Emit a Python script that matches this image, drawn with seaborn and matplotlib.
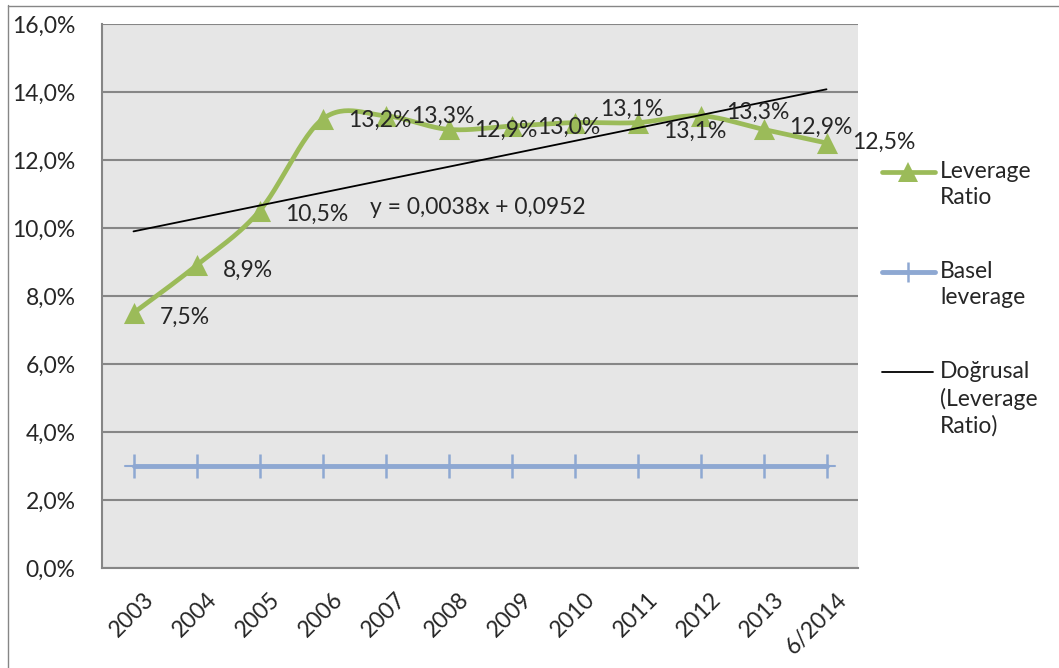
import numpy as np
import matplotlib
matplotlib.use("Agg")
import matplotlib.pyplot as plt
import matplotlib.transforms as mtransforms
from matplotlib.lines import Line2D
import seaborn as sns
import pandas as pd

categories = ["2003", "2004", "2005", "2006", "2007", "2008", "2009",
              "2010", "2011", "2012", "2013", "6/2014"]
leverage_ratio = [0.075, 0.089, 0.105, 0.132, 0.133, 0.129, 0.130,
                  0.131, 0.131, 0.133, 0.129, 0.125]
basel_leverage = [0.03] * 12
trend_slope = 0.0038
trend_intercept = 0.0952
y_ticks = [0.0, 0.02, 0.04, 0.06, 0.08, 0.10, 0.12, 0.14, 0.16]
label_dy = [-4, -5, -3, -1, -1, -1, -1, 13, -9, 3, 2, 1]  # label offsets (px)

sns.set_style("white")
plt.rcParams["font.family"] = ["Lato", "DejaVu Sans"]

GREEN = "#9BBB59"
BLUE = "#8EA8D2"
GRAY = "#868686"
FS = 16.5

W, H = 1059, 668
fig = plt.figure(figsize=(W / 100, H / 100), dpi=100)
ax = fig.add_axes([102 / W, 1 - 568 / H, (858 - 102) / W, (568 - 24) / H])
ax.set_facecolor("#E6E6E6")

x = np.arange(len(categories))
df = pd.DataFrame({"x": x, "lev": leverage_ratio, "basel": basel_leverage})

# Smoothed line (Excel-like Catmull-Rom rendering of the same points)
pts = np.column_stack([x, leverage_ratio]).astype(float)
ext = np.vstack([pts[0], pts, pts[-1]])
curve = []
t = np.linspace(0, 1, 30)
for i in range(1, len(ext) - 2):
    p0, p1, p2, p3 = ext[i - 1], ext[i], ext[i + 1], ext[i + 2]
    c1 = p1 + (p2 - p0) / 6
    c2 = p2 - (p3 - p1) / 6
    b = ((1 - t) ** 3)[:, None] * p1 + (3 * (1 - t) ** 2 * t)[:, None] * c1 \
        + (3 * (1 - t) * t ** 2)[:, None] * c2 + (t ** 3)[:, None] * p2
    curve.append(b)
curve = np.vstack(curve)
ax.plot(curve[:, 0], curve[:, 1], color=GREEN, lw=3.4, zorder=3,
        solid_capstyle="round")
sns.scatterplot(data=df, x="x", y="lev", marker="^", s=230, color=GREEN,
                edgecolor=GREEN, linewidth=0, ax=ax, zorder=4, legend=False)

# Basel line
ax.plot([-0.13, 11.13], [basel_leverage[0], basel_leverage[-1]], color=BLUE,
        lw=1.5, zorder=2)
sns.lineplot(data=df, x="x", y="basel", color=BLUE, lw=3.5, marker="|",
             markersize=17, markeredgewidth=1.8, markeredgecolor=BLUE,
             ax=ax, zorder=3, legend=False)

# Trend line
trend = trend_slope * (x + 1) + trend_intercept
ax.plot(x, trend, color="black", lw=1.3, zorder=5)
ax.text(3.75, 0.1059, "y = 0,0038x + 0,0952", fontsize=FS, va="center",
        ha="left", zorder=6)

# Data labels
for xi, yi, dy in zip(x, leverage_ratio, label_dy):
    ax.annotate(f"{yi * 100:.1f}%".replace(".", ","), (xi, yi),
                xytext=(26, dy), textcoords="offset pixels",
                ha="left", va="center", fontsize=FS, zorder=7,
                annotation_clip=False)

ax.set_xlim(-0.5, 11.5)
ax.set_ylim(0, 0.16)
ax.set_yticks(y_ticks)
ax.set_yticklabels([f"{v * 100:.1f}%".replace(".", ",") for v in y_ticks],
                   fontsize=FS)
ax.yaxis.grid(True, color=GRAY, lw=1.5)
ax.set_axisbelow(True)
ax.set_xticks(x)
ax.set_xticklabels(categories, rotation=45, ha="right", va="top",
                   rotation_mode="anchor", fontsize=FS)
ax.set_xticks(np.arange(-0.5, 12, 1), minor=True)
ax.tick_params(axis="x", which="major", length=0, pad=15)
ax.tick_params(axis="x", which="minor", length=7, width=1.5, color=GRAY,
               direction="out")
ax.tick_params(axis="y", length=7, width=1.5, color=GRAY, direction="out",
               pad=12)
offset = mtransforms.ScaledTranslation(0.10, 0.0, fig.dpi_scale_trans)
for lbl in ax.get_xticklabels():
    lbl.set_transform(lbl.get_transform() + offset)
ax.set_xlabel("")
ax.set_ylabel("")
for side in ["top", "right"]:
    ax.spines[side].set_visible(False)
for side in ["left", "bottom"]:
    ax.spines[side].set_color(GRAY)
    ax.spines[side].set_linewidth(1.5)

# Legend (drawn in figure pixels)
def fy(py):
    return 1 - py / H

def fx(px):
    return px / W

fig.add_artist(Line2D([fx(882), fx(935)], [fy(172), fy(172)], color=GREEN,
                      lw=3.4))
fig.add_artist(Line2D([fx(908)], [fy(172)], color=GREEN, marker="^",
                      markersize=14, markeredgewidth=0, lw=0))
fig.add_artist(Line2D([fx(882), fx(935)], [fy(272), fy(272)], color=BLUE,
                      lw=3.5))
fig.add_artist(Line2D([fx(908)], [fy(272)], color=BLUE, marker="|",
                      markersize=15, markeredgewidth=1.8, lw=0))
fig.add_artist(Line2D([fx(882), fx(933)], [fy(372), fy(372)], color="black",
                      lw=1.3))
leg_texts = [("Leverage\nRatio", 172), ("Basel\nleverage", 272),
             ("Doğrusal\n(Leverage\nRatio)", 372)]
for txt, py in leg_texts:
    fig.text(fx(940), fy(py - 11), txt, fontsize=FS, ha="left", va="top",
             linespacing=1.3)

# Chart area border (left and top)
fig.add_artist(Line2D([fx(7.5), fx(7.5)], [fy(5), fy(668)], color=GRAY, lw=1))
fig.add_artist(Line2D([fx(7.5), fx(1059)], [fy(5.5), fy(5.5)], color=GRAY,
                      lw=1))

fig.savefig("out.png", dpi=100)
